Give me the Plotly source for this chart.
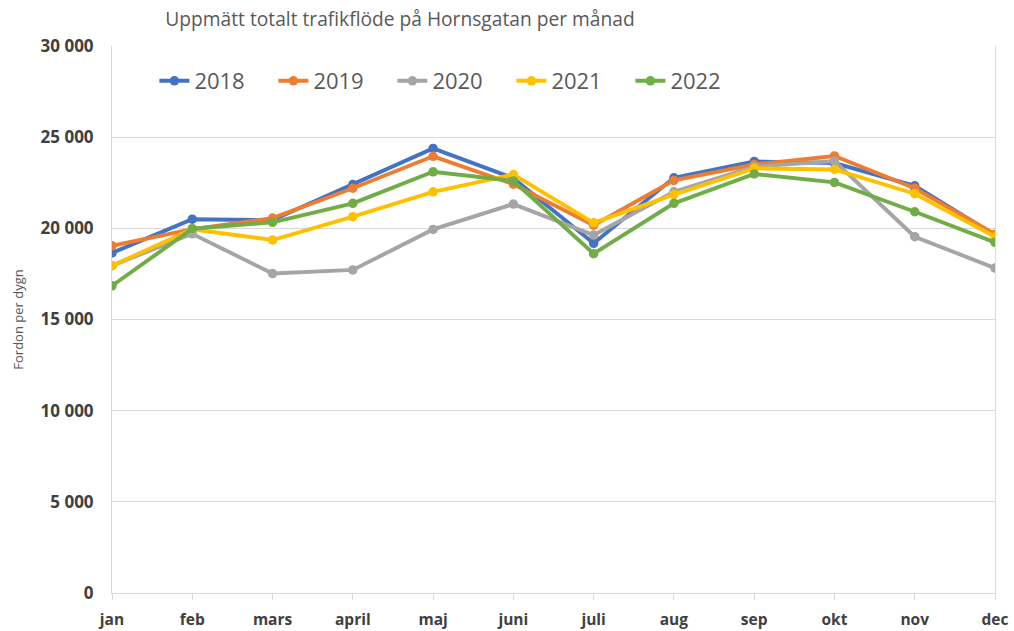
import plotly.graph_objects as go

months = ["jan", "feb", "mars", "april", "maj", "juni", "juli", "aug", "sep", "okt", "nov", "dec"]
y2018 = [18650, 20500, 20450, 22400, 24380, 22750, 19180, 22770, 23670, 23580, 22330, 19630]
y2019 = [19040, 19960, 20560, 22200, 23950, 22420, 20170, 22630, 23500, 23970, 22200, 19670]
y2020 = [17950, 19700, 17520, 17720, 19940, 21330, 19630, 22000, 23380, 23690, 19540, 17820]
y2021 = [17950, 19950, 19360, 20640, 22000, 22950, 20300, 21850, 23290, 23230, 21900, 19540]
y2022 = [16850, 19980, 20330, 21370, 23100, 22600, 18610, 21370, 22980, 22520, 20910, 19230]

series = [("2018", y2018, "#4472C4"), ("2019", y2019, "#ED7D31"), ("2020", y2020, "#A5A5A5"),
          ("2021", y2021, "#FFC000"), ("2022", y2022, "#70AD47")]

fig = go.Figure()
for name, ys, col in series:
    fig.add_trace(go.Scatter(x=list(range(len(months))), y=ys, name=name, mode="lines+markers",
                             line=dict(color=col, width=3.9), marker=dict(color=col, size=9.5)))

font_fam = "Open Sans, DejaVu Sans, sans-serif"
fig.update_layout(
    width=1014, height=631,
    margin=dict(l=112, r=19, t=46, b=38, autoexpand=False),
    paper_bgcolor="white", plot_bgcolor="white",
    title=dict(text="Uppmätt totalt trafikflöde på Hornsgatan per månad", x=400/1014, xanchor="center",
               y=1 - 19/631, yanchor="middle", font=dict(family="Open Sans, sans-serif", size=19.2, color="#595959")),
    legend=dict(orientation="h", x=0.048, xanchor="left", y=(593-81)/547, yanchor="middle",
                font=dict(family="Open Sans, sans-serif", size=22, color="#595959"),
                bgcolor="rgba(0,0,0,0)", entrywidth=74, itemwidth=30),
    xaxis=dict(tickmode="array", tickvals=list(range(len(months))), ticktext=months, automargin=False,
               range=[0, 11], showgrid=False, showline=True, linecolor="#d9d9d9", linewidth=1,
               ticks="outside", ticklen=6, tickcolor="#d9d9d9", ticklabelstandoff=6,
               tickfont=dict(family=font_fam, size=15.5, color="#404040", weight="bold"), zeroline=False),
    yaxis=dict(range=[0, 30000], tickvals=[0, 5000, 10000, 15000, 20000, 25000, 30000], automargin=False,
               ticktext=["0", "5 000", "10 000", "15 000", "20 000", "25 000", "30 000"],
               showgrid=True, gridcolor="#d9d9d9", gridwidth=1, zeroline=False,
               showline=True, linecolor="#d9d9d9", mirror=True, ticks="", ticklabelstandoff=14,
               tickfont=dict(family=font_fam, size=17, color="#404040", weight="bold"),
               title=dict(text="Fordon per dygn", font=dict(family="Open Sans, sans-serif", size=13, color="#595959"),
                          standoff=14)),
)
fig.write_html("out.html", config={"displayModeBar": False},
               post_script="document.body.style.margin='0';document.body.style.overflow='hidden';")
